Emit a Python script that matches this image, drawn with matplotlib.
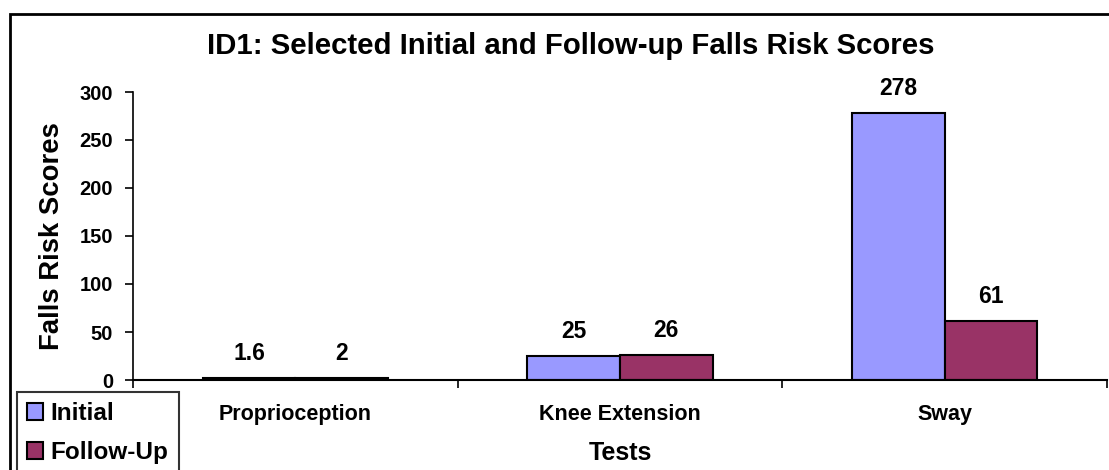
import matplotlib
matplotlib.use("Agg")
import matplotlib.pyplot as plt
from matplotlib.patches import Rectangle
import numpy as np

categories = ["Proprioception", "Knee Extension", "Sway"]
initial = [1.6, 25, 278]
follow_up = [2, 26, 61]
initial_labels = ["1.6", "25", "278"]
follow_labels = ["2", "26", "61"]
yticks = [0, 50, 100, 150, 200, 250, 300]

plt.rcParams['font.family'] = ['Liberation Sans', 'DejaVu Sans']
plt.rcParams['font.weight'] = 'bold'

W, H = 1109, 470
PX = 72 / 100  # points per pixel
fig = plt.figure(figsize=(W/100, H/100), dpi=100)
ax = fig.add_axes([133/W, 1-380/H, (1107-133)/W, (380-92)/H])

x = np.arange(len(categories))
bw = 0.285
c1, c2 = "#9999FF", "#993366"
b1 = ax.bar(x - bw/2, initial, bw, color=c1, edgecolor="black", linewidth=1.5, label="Initial")
b2 = ax.bar(x + bw/2, follow_up, bw, color=c2, edgecolor="black", linewidth=1.5, label="Follow-Up")

for xs, vals, texts in ((x - bw/2, initial, initial_labels), (x + bw/2, follow_up, follow_labels)):
    for xi, v, t in zip(xs, vals, texts):
        ax.annotate(t, (xi, v), xytext=(0, 25*PX), textcoords="offset points", ha="center",
                    va="center", fontsize=16.5, fontweight="bold")

ax.set_xlim(-0.5, len(categories) - 0.5)
ax.set_ylim(0, 300)
ax.set_yticks(yticks)
ax.set_yticklabels([str(v) for v in yticks], fontsize=14.5, fontweight="bold")
ax.tick_params(axis="y", direction="out", length=8*PX, width=1.2, pad=12*PX)
ax.set_xticks(x)
ax.set_xticklabels(categories, fontsize=15.5, fontweight="bold")
ax.set_xticks(np.arange(-0.5, len(categories), 1), minor=True)
ax.tick_params(axis="x", which="major", length=0, pad=24*PX)
ax.tick_params(axis="x", which="minor", direction="out", length=8*PX, width=1.2)

for s in ["top", "right"]:
    ax.spines[s].set_visible(False)
ax.spines["left"].set_linewidth(1.2)
ax.spines["bottom"].set_linewidth(1.5)

ax.set_xlabel("Tests", fontsize=18, fontweight="bold", labelpad=16*PX)
ax.set_ylabel("Falls Risk Scores", fontsize=19.8, fontweight="bold", labelpad=14*PX)

fig.text(571/W, 1-46/H, "ID1: Selected Initial and Follow-up Falls Risk Scores",
         ha="center", va="center", fontsize=21.2, fontweight="bold")

# outer chart frame
fig.patches.append(Rectangle((10/W, -0.05), 1.2, 1-14/H+0.05, transform=fig.transFigure,
                             fill=False, edgecolor="black", linewidth=2))

leg = fig.legend(handles=[b1, b2], loc="upper left", bbox_to_anchor=(17/W, 1-392/H),
                 frameon=True, fancybox=False, edgecolor="black",
                 prop={"weight": "bold", "size": 17.5}, handlelength=0.66, handleheight=0.66,
                 handletextpad=0.3, labelspacing=0.65, borderpad=0.42, borderaxespad=0)
leg.get_frame().set_linewidth(1.5)

fig.savefig("out.png", dpi=100)
